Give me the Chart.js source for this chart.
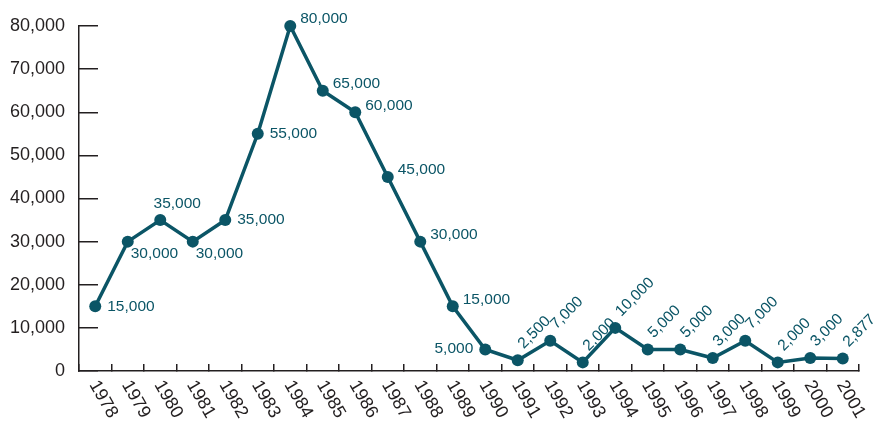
<!DOCTYPE html>
<html>
<head>
<meta charset="utf-8">
<script src="https://cdn.jsdelivr.net/npm/chart.js@4/dist/chart.umd.min.js"></script>
<style>
  html, body { margin: 0; padding: 0; background: #fff; }
  #wrap { width: 876px; height: 424px; }
</style>
</head>
<body>
<div id="wrap"><canvas id="chart"></canvas></div>
<script>
var years = ['1978', '1979', '1980', '1981', '1982', '1983', '1984', '1985', '1986', '1987', '1988', '1989',
    '1990', '1991', '1992', '1993', '1994', '1995', '1996', '1997', '1998', '1999', '2000', '2001'];
var values = [15000, 30000, 35000, 30000, 35000, 55000, 80000, 65000, 60000, 45000, 30000, 15000,
    5000, 2500, 7000, 2000, 10000, 5000, 5000, 3000, 7000, 2000, 3000, 2877];
var yTicks = [0, 10000, 20000, 30000, 40000, 50000, 60000, 70000, 80000];
// where each value label sits relative to its point
var labelSpots = ['r', 'b', 'a', 'b', 'r', 'r', 'ru', 'ru', 'ru', 'ru', 'ru', 'ru',
    'l', 'rot', 'rot', 'rot', 'rot', 'rot', 'rot', 'rot', 'rot', 'rot', 'rot', 'rot'];

var teal = '#0b5566';
var ink = '#231f20';
var fmt = function (v) { return Number(v).toLocaleString('en-US'); };

var labelsPlugin = {
    id: 'labels',
    afterDraw: function (chart) {
        var ctx = chart.ctx;
        var meta = chart.getDatasetMeta(0);
        var xs = chart.scales.x;

        ctx.save();
        ctx.fillStyle = teal;
        ctx.font = '15.5px "Liberation Sans", Arial, sans-serif';
        meta.data.forEach(function (pt, i) {
            var t = fmt(values[i]);
            var s = labelSpots[i];
            var x = pt.x, y = pt.y;
            ctx.textBaseline = 'middle';
            if (s === 'rot') {
                ctx.save();
                ctx.translate(x + 3, y - 14);
                ctx.rotate(-Math.PI / 4);
                ctx.textAlign = 'left';
                ctx.fillText(t, 0, 0);
                ctx.restore();
                return;
            }
            if (s === 'r') { ctx.textAlign = 'left'; ctx.fillText(t, x + 12, y); }
            else if (s === 'ru') { ctx.textAlign = 'left'; ctx.fillText(t, x + 10, y - 7); }
            else if (s === 'b') { ctx.textAlign = 'left'; ctx.fillText(t, x + 3, y + 12); }
            else if (s === 'a') { ctx.textAlign = 'center'; ctx.fillText(t, x + 17, y - 16); }
            else if (s === 'l') { ctx.textAlign = 'right'; ctx.fillText(t, x - 12, y - 1); }
        });

        // rotated year labels under the x axis
        ctx.fillStyle = ink;
        ctx.font = '18px "Liberation Sans", Arial, sans-serif';
        ctx.textAlign = 'left';
        ctx.textBaseline = 'middle';
        years.forEach(function (yr, i) {
            var px = xs.getPixelForTick(i);
            ctx.save();
            ctx.translate(px - 2, xs.top + 11);
            ctx.rotate(Math.PI / 3);
            ctx.fillText(yr, 0, 0);
            ctx.restore();
        });
        ctx.restore();
    }
};

new Chart(document.getElementById('chart'), {
    type: 'line',
    data: {
        labels: years,
        datasets: [{
            data: values,
            borderColor: teal,
            backgroundColor: teal,
            borderWidth: 3.5,
            pointRadius: 6,
            pointBorderWidth: 0,
            pointBackgroundColor: teal,
            tension: 0,
            fill: false,
            clip: false
        }]
    },
    options: {
        responsive: true,
        maintainAspectRatio: false,
        animation: false,
        layout: { padding: { top: 26, right: 17, bottom: 0, left: 0 } },
        plugins: { legend: { display: false }, tooltip: { enabled: false } },
        scales: {
            x: {
                offset: true,
                grid: { offset: true, drawOnChartArea: false, tickLength: -7, color: ink, lineWidth: 1.5 },
                border: { color: ink, width: 1.5 },
                ticks: { display: false },
                afterFit: function (s) { s.height = 53; }
            },
            y: {
                min: 0,
                max: 80000,
                afterBuildTicks: function (s) { s.ticks = yTicks.map(function (v) { return { value: v }; }); },
                grid: { drawOnChartArea: false, tickLength: -19, color: ink, lineWidth: 1.5 },
                border: { color: ink, width: 1.5 },
                ticks: {
                    padding: 33,
                    color: ink,
                    font: { family: '"Liberation Sans", Arial, sans-serif', size: 18 },
                    callback: function (v) { return fmt(v); }
                },
                afterFit: function (s) {
                    s.width = 79;
                    s.paddingTop = 0;
                    s.paddingBottom = 0;
                }
            }
        }
    },
    plugins: [labelsPlugin]
});
</script>
</body>
</html>
